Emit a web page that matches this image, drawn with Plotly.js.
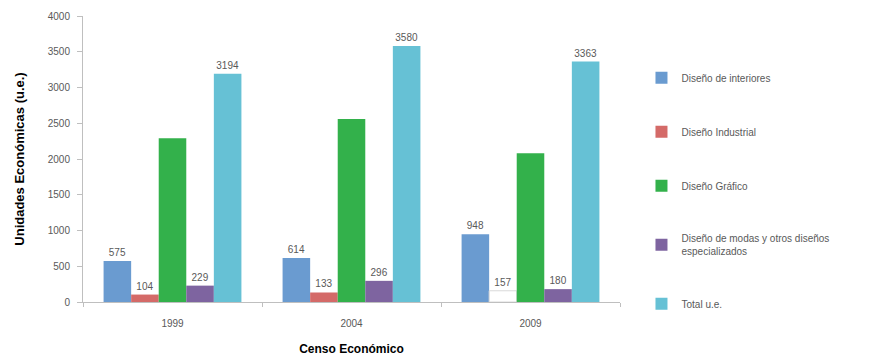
<!DOCTYPE html>
<html>
<head>
<meta charset="utf-8">
<script src="https://cdn.plot.ly/plotly-3.0.1.min.js"></script>
<style>html,body{margin:0;padding:0;background:#fff;}#chart{width:885px;height:360px;}</style>
</head>
<body>
<div id="chart"></div>
<script>
const years = ['1999', '2004', '2009'];
const interiores = [575, 614, 948];
const industrial = [104, 133, 157];
const grafico = [2290, 2560, 2080];
const modas = [229, 296, 180];
const total = [3194, 3580, 3363];

const names = ['Diseño de interiores', 'Diseño Industrial', 'Diseño Gráfico',
  'Diseño de modas y otros diseños<br>especializados', 'Total u.e.'];
const colors = ['#6a9bd0', '#d46a68', '#33b14b', '#7e64a0', '#66c1d5'];
const series = [interiores, industrial, grafico, modas, total];
const showText = [true, true, false, true, true];

const font = 'Liberation Sans, Arial, sans-serif';
const traces = series.map((vals, i) => {
  let mc = colors[i];
  let line = {width: 0};
  if (i === 1) {
    mc = vals.map((v, j) => j === 2 ? 'rgba(255,255,255,0)' : colors[i]);
    line = {width: vals.map((v, j) => j === 2 ? 1 : 0), color: '#d9d9d9'};
  }
  return {
    type: 'bar', x: years, y: vals, name: names[i],
    legendgroup: 'g' + i,
    marker: {color: mc, line: line},
    text: showText[i] ? vals.map(String) : undefined,
    textposition: showText[i] ? 'outside' : 'none',
    textfont: {family: font, size: 10, color: '#595959'},
    cliponaxis: false,
    hoverinfo: 'none'
  };
});

const layout = {
  width: 885, height: 360,
  margin: {l: 83, r: 265, t: 16, b: 58},
  paper_bgcolor: '#fff', plot_bgcolor: '#fff',
  barmode: 'group', bargap: 0.23, bargroupgap: 0,
  font: {family: font, size: 10, color: '#595959'},
  showlegend: true,
  legend: {x: 1.04, y: 0.835, xanchor: 'left', yanchor: 'top',
    font: {family: font, size: 10, color: '#595959'},
    tracegroupgap: 35, itemwidth: 30},
  xaxis: {
    type: 'category',
    showline: true, linecolor: '#bfbfbf', linewidth: 1,
    ticks: 'outside', tickson: 'boundaries', ticklen: 4, tickcolor: '#bfbfbf',
    ticklabelstandoff: 12,
    tickfont: {family: font, size: 10, color: '#595959'},
    title: {text: 'Censo Económico', font: {family: font, size: 12, color: '#000', weight: 'bold'}, standoff: 16}
  },
  yaxis: {
    range: [0, 4000], dtick: 500,
    showgrid: false, zeroline: false,
    showline: true, linecolor: '#bfbfbf', linewidth: 1,
    ticks: 'outside', ticklen: 5, tickcolor: '#bfbfbf',
    ticklabelstandoff: 5,
    tickfont: {family: font, size: 10, color: '#595959'},
    title: {text: 'Unidades Económicas (u.e.)', font: {family: font, size: 13, color: '#000', weight: 'bold'}, standoff: 20}
  }
};

Plotly.newPlot('chart', traces, layout, {displayModeBar: false, staticPlot: true});
</script>
</body>
</html>
